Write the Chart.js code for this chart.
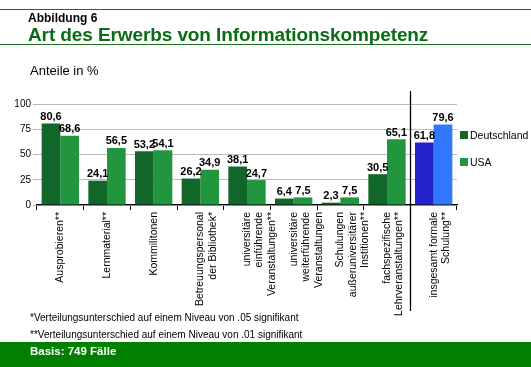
<!DOCTYPE html>
<html>
<head>
<meta charset="utf-8">
<script src="https://cdn.jsdelivr.net/npm/chart.js@4.4.1/dist/chart.umd.min.js"></script>
<style>
  body { margin: 0; width: 531px; height: 367px; overflow: hidden; background: #fff; position: relative;
         font-family: "Liberation Sans", Arial, sans-serif; }
  .abs { position: absolute; white-space: nowrap; }
  #chartBox { position: absolute; left: 0; top: 0; width: 531px; height: 367px; }
  .rule { position: absolute; left: 0; width: 531px; height: 1px; background: #1a6e1a; }
  #fig { left: 28px; top: 11px; font-size: 12px; font-weight: bold; color: #000; }
  #title { left: 28px; top: 24px; font-size: 19px; font-weight: bold; color: #0b6b17; letter-spacing: -0.1px; }
  #unit { left: 30px; top: 63px; font-size: 13px; color: #000; }
  .note { left: 30px; font-size: 10px; color: #000; }
  #band { position: absolute; left: 0; top: 342px; width: 531px; height: 25px; background: #007f00; }
  #basis { left: 30px; top: 345px; font-size: 11.5px; font-weight: bold; color: #fff; }
  .leg { left: 460px; font-size: 10.5px; color: #000; }
  .leg i { display: inline-block; width: 8px; height: 8px; margin-right: 2px; vertical-align: -0px; }
</style>
</head>
<body>
<div id="chartBox"><canvas id="erwerbChart" width="531" height="367"></canvas></div>

<div class="rule" style="top:9px"></div>
<div class="rule" style="top:44px"></div>
<div class="abs" id="fig">Abbildung 6</div>
<div class="abs" id="title">Art des Erwerbs von Informationskompetenz</div>
<div class="abs" id="unit">Anteile in %</div>
<div id="legend"></div>
<div class="abs note" style="top:312px">*Verteilungsunterschied auf einem Niveau von .05 signifikant</div>
<div class="abs note" style="top:329px">**Verteilungsunterschied auf einem Niveau von .01 signifikant</div>
<div id="band"></div>
<div class="abs" id="basis">Basis: 749 Fälle</div>

<script>
// Kategorien (mehrzeilig, wie im Original)
const categories = [
    ['Ausprobieren**'],
    ['Lernmaterial**'],
    ['Kommilitonen'],
    ['Betreuungspersonal', 'der Bibliothek*'],
    ['universitäre', 'einführende', 'Veranstaltungen**'],
    ['universitäre', 'weiterführende', 'Veranstaltungen'],
    ['Schulungen', 'außeruniversitärer', 'Institionen**'],
    ['fachspezifische', 'Lehrveranstaltungen**'],
    ['insgesamt formale', 'Schulung**']
];
const seriesNames = ['Deutschland', 'USA'];
const deutschland = [80.6, 24.1, 53.2, 26.2, 38.1, 6.4, 2.3, 30.5, 61.8];
const usa = [68.6, 56.5, 54.1, 34.9, 24.7, 7.5, 7.5, 65.1, 79.6];
const yTicks = [0, 25, 50, 75, 100];

// Farben: grün für Einzelwerte, blau für die Summe ganz rechts
const colDe = '#11662a', colUsa = '#21963e';
const colDeSum = '#2323cc', colUsaSum = '#3377ff';

const fmt = (n) => n.toLocaleString('de-DE', { minimumFractionDigits: 1, maximumFractionDigits: 1 });
const colorsFor = (base, last) => categories.map((c, i) => i === categories.length - 1 ? last : base);

// HTML-Legende
document.getElementById('legend').innerHTML =
    `<div class="abs leg" style="top:129px"><i style="background:${colDe}"></i>${seriesNames[0]}</div>` +
    `<div class="abs leg" style="top:156px"><i style="background:${colUsa}"></i>${seriesNames[1]}</div>`;

// Zahlen über den Balken
const valueLabels = {
    id: 'valueLabels',
    afterDatasetsDraw(chart) {
        const ctx = chart.ctx;
        ctx.save();
        ctx.font = 'bold 11px "Liberation Sans", Arial, sans-serif';
        ctx.fillStyle = '#000';
        ctx.textAlign = 'center';
        ctx.textBaseline = 'bottom';
        chart.data.datasets.forEach((ds, i) => {
            chart.getDatasetMeta(i).data.forEach((bar, j) => {
                ctx.fillText(fmt(ds.data[j]), bar.x, bar.y - 1);
            });
        });
        ctx.restore();
    }
};

// senkrechter Trennstrich vor "insgesamt formale Schulung"
const separator = {
    id: 'separator',
    afterDraw(chart) {
        const x = chart.scales.x, area = chart.chartArea, ctx = chart.ctx;
        const n = categories.length;
        const px = Math.round((x.getPixelForValue(n - 2) + x.getPixelForValue(n - 1)) / 2) + 0.5;
        ctx.save();
        ctx.strokeStyle = '#000';
        ctx.lineWidth = 1.3;
        ctx.beginPath();
        ctx.moveTo(px, area.top - 13);
        ctx.lineTo(px, area.bottom + 106);
        ctx.stroke();
        ctx.restore();
    }
};

const ctx = document.getElementById('erwerbChart').getContext('2d');
new Chart(ctx, {
    type: 'bar',
    data: {
        labels: categories,
        datasets: [
            { label: seriesNames[0], data: deutschland, backgroundColor: colorsFor(colDe, colDeSum), borderWidth: 0 },
            { label: seriesNames[1], data: usa, backgroundColor: colorsFor(colUsa, colUsaSum), borderWidth: 0 }
        ]
    },
    options: {
        responsive: false,
        animation: false,
        devicePixelRatio: 1,
        layout: { padding: { top: 104, right: 74, bottom: 0, left: 0 } },
        datasets: { bar: { categoryPercentage: 0.8, barPercentage: 1.0 } },
        plugins: {
            legend: { display: false },
            tooltip: { enabled: false }
        },
        scales: {
            x: {
                afterFit: (s) => { s.height = 162; },
                border: { display: true, color: '#000', width: 1.3 },
                grid: { display: true, drawOnChartArea: false, drawTicks: true, tickLength: 5, color: '#000', offset: true },
                ticks: {
                    color: '#000',
                    font: { family: '"Liberation Sans", Arial, sans-serif', size: 10.5 },
                    minRotation: 90, maxRotation: 90, padding: 2, autoSkip: false
                }
            },
            y: {
                min: 0, max: 100,
                afterFit: (s) => { s.width = 37; },
                afterBuildTicks: (s) => { s.ticks = yTicks.map(v => ({ value: v })); },
                border: { display: false },
                grid: { color: '#bbbbbb', lineWidth: 1, tickLength: 4 },
                ticks: {
                    color: '#000',
                    font: { family: '"Liberation Sans", Arial, sans-serif', size: 10 },
                    padding: 2
                }
            }
        }
    },
    plugins: [valueLabels, separator]
});
</script>
</body>
</html>
